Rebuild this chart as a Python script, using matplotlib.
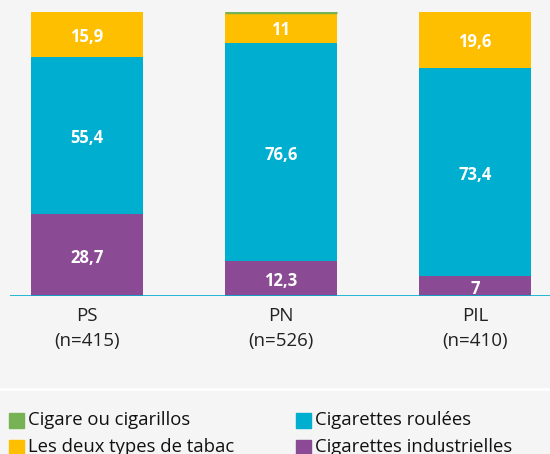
# stacked bars: type of tobacco by group

import matplotlib.pyplot as plt
from matplotlib.patches import Rectangle

plt.rcParams['font.family'] = ['Open Sans', 'DejaVu Sans']

groups = ["PS", "PN", "PIL"]
counts = ["(n=415)", "(n=526)", "(n=410)"]

industrielles = [28.7, 12.3, 7.0]
roulees = [55.4, 76.6, 73.4]
deux_types = [15.9, 11.0, 19.6]
cigare = [0.0, 0.1, 0.0]

c_green = "#77b255"
c_yellow = "#fdbf00"
c_blue = "#00aed0"
c_purple = "#8b4a94"
bg = "#f5f5f5"

fig = plt.figure(figsize=(5.5, 4.54), dpi=100, facecolor=bg)
ax = fig.add_axes([0.018, 0.348, 0.982, 0.626], facecolor=bg)

x = [0, 1, 2]
w = 0.58

b1 = ax.bar(x, industrielles, w, color=c_purple, linewidth=0)
bot = industrielles
b2 = ax.bar(x, roulees, w, bottom=bot, color=c_blue, linewidth=0)
bot = [a + b for a, b in zip(bot, roulees)]
b3 = ax.bar(x, deux_types, w, bottom=bot, color=c_yellow, linewidth=0)
bot = [a + b for a, b in zip(bot, deux_types)]
# tiny green slice, drawn with an edge so it shows
ax.bar(x, cigare, w, bottom=bot, color=c_green,
       edgecolor=[c_green if v > 0 else (0, 0, 0, 0) for v in cigare],
       linewidth=[2.5 if v > 0 else 0 for v in cigare])

def fmt(v):
    s = ("%.1f" % v).rstrip("0").rstrip(".")
    return s.replace(".", ",")

# value labels, a little below segment centre as in the original
bottoms = [[0, 0, 0], industrielles,
           [a + b for a, b in zip(industrielles, roulees)]]
for vals, b0 in zip([industrielles, roulees, deux_types], bottoms):
    for xi, v, b in zip(x, vals, b0):
        ax.annotate(fmt(v), (xi, b + v / 2), xytext=(0, -2),
                    textcoords="offset points", ha="center", va="center",
                    color="white", fontsize=12, fontweight="bold")

ax.set_xlim(-0.397, 2.387)
ax.set_ylim(0, 100)
ax.axhline(0, color=c_blue, lw=1.2, zorder=5)

for s in ax.spines.values():
    s.set_visible(False)
ax.set_yticks([])
ax.set_xticks(x)
ax.set_xticklabels([g + "\n" + n for g, n in zip(groups, counts)],
                   fontsize=13.5, linespacing=1.5, color="#222222")
ax.tick_params(axis="x", length=0, pad=8)

# white separator above legend
fig.add_artist(plt.Line2D([0, 1], [1 - 389/454, 1 - 389/454],
                          color="white", lw=2, transform=fig.transFigure))

# legend, two columns
legend_items = [("Cigare ou cigarillos", c_green, 9, 420),
                ("Les deux types de tabac", c_yellow, 9, 447),
                ("Cigarettes roulées", c_blue, 296, 420),
                ("Cigarettes industrielles", c_purple, 296, 447)]
for label, col, px, py in legend_items:
    fig.add_artist(Rectangle((px/550, 1 - (py + 7.5)/454), 15/550, 15/454,
                             color=col, transform=fig.transFigure))
    fig.text((px + 19)/550, 1 - py/454, label, fontsize=13.3,
             va="center", ha="left", color="#111111")

plt.savefig("out.png", dpi=100, facecolor=bg)
